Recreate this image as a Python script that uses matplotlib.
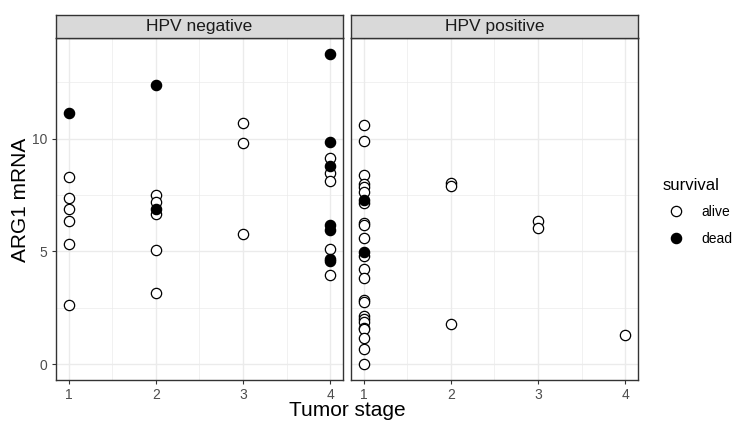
import matplotlib
matplotlib.use("Agg")
import matplotlib.pyplot as plt
from matplotlib.lines import Line2D

plt.rcParams['font.family'] = ['Liberation Sans', 'DejaVu Sans']

# ---- data ----
panels = ["HPV negative", "HPV positive"]

neg_stage = [1, 1, 1, 1, 1, 1, 1,
             2, 2, 2, 2, 2, 2, 2,
             3, 3, 3,
             4, 4, 4, 4, 4, 4, 4, 4, 4, 4, 4, 4]
neg_arg1 = [11.14, 8.30, 7.38, 6.86, 6.33, 5.33, 2.61,
            12.38, 7.50, 7.19, 6.90, 6.67, 5.05, 3.15,
            10.70, 9.80, 5.76,
            13.76, 9.83, 9.12, 8.79, 8.47, 8.10, 6.19, 5.97, 5.12, 4.65, 4.57, 3.96]
neg_surv = ["dead", "alive", "alive", "alive", "alive", "alive", "alive",
            "dead", "alive", "alive", "dead", "alive", "alive", "alive",
            "alive", "alive", "alive",
            "dead", "dead", "alive", "dead", "alive", "alive", "dead", "dead", "alive", "dead", "dead", "alive"]

pos_stage = [1] * 25 + [2, 2, 2, 3, 3, 4]
pos_arg1 = [10.60, 9.90, 8.40, 7.97, 7.87, 7.62, 7.28, 7.15, 6.24, 6.15, 5.60,
            4.96, 4.78, 4.23, 3.82, 2.84, 2.76, 2.14, 2.02, 1.88, 1.63, 1.55, 1.19, 0.68, 0.0,
            8.05, 7.90, 1.81, 6.35, 6.02, 1.29]
pos_surv = ["alive", "alive", "alive", "alive", "alive", "alive", "dead", "alive", "alive", "alive", "alive",
            "dead", "alive", "alive", "alive", "alive", "alive", "alive", "alive", "alive", "alive", "alive", "alive", "alive", "alive",
            "alive", "alive", "alive", "alive", "alive", "alive"]

x_ticks = [1, 2, 3, 4]
y_ticks = [0, 5, 10]
fill_colors = {"alive": "white", "dead": "black"}

# ---- figure ----
W, H = 745, 428
fig = plt.figure(figsize=(W / 100, H / 100), dpi=100)

def fx(px):
    return px / W

def fy(py):
    return 1 - py / H

panel_top, panel_bot, strip_top = 38, 380, 15
lefts = [55.7, 350.7]
width_px = 287.5

grid_col = "#EBEBEB"
border_col = "#333333"
tick_col = "#4D4D4D"

data = [(neg_stage, neg_arg1, neg_surv), (pos_stage, pos_arg1, pos_surv)]

for i, (name, (st, val, sv)) in enumerate(zip(panels, data)):
    ax = fig.add_axes([fx(lefts[i]), fy(panel_bot), fx(width_px), (panel_bot - panel_top) / H])
    ax.set_xlim(0.85, 4.15)
    ax.set_ylim(-0.69, 14.45)
    ax.set_xticks(x_ticks)
    ax.set_xticks([1.5, 2.5, 3.5], minor=True)
    ax.set_yticks(y_ticks)
    ax.set_yticks([2.5, 7.5, 12.5], minor=True)
    ax.grid(True, which="major", color=grid_col, linewidth=1.0)
    ax.grid(True, which="minor", color=grid_col, linewidth=0.5)
    ax.set_axisbelow(True)
    for s in ax.spines.values():
        s.set_color(border_col)
        s.set_linewidth(1.0)
    ax.tick_params(which="minor", length=0)
    ax.tick_params(which="major", length=3, color=border_col, width=0.8,
                   labelsize=10, labelcolor=tick_col, pad=3)
    if i == 1:
        ax.tick_params(axis="y", which="major", length=0, labelleft=False)
    for sname in ["alive", "dead"]:
        xs = [x for x, s in zip(st, sv) if s == sname]
        ys = [y for y, s in zip(val, sv) if s == sname]
        ax.scatter(xs, ys, s=55, facecolor=fill_colors[sname], edgecolor="black",
                   linewidth=0.9, zorder=3)
    # strip
    sax = fig.add_axes([fx(lefts[i]), fy(panel_top), fx(width_px), (panel_top - strip_top) / H])
    sax.set_facecolor("#D9D9D9")
    sax.set_xticks([])
    sax.set_yticks([])
    for s in sax.spines.values():
        s.set_color(border_col)
        s.set_linewidth(1.0)
    sax.text(0.5, 0.5, name, ha="center", va="center", fontsize=12.5,
             color="#1A1A1A", transform=sax.transAxes)

fig.text(fx(21), fy(200), "ARG1 mRNA", rotation=90, ha="center", va="center", fontsize=15)
fig.text(fx(347), fy(411), "Tumor stage", ha="center", va="center", fontsize=15)

handles = [Line2D([], [], marker="o", linestyle="none", markersize=7.4,
                  markerfacecolor=fill_colors[k], markeredgecolor="black",
                  markeredgewidth=0.9, label=k) for k in ["alive", "dead"]]
leg = fig.legend(handles=handles, title="survival", loc="upper left",
                 bbox_to_anchor=(fx(657), fy(172)), frameon=False,
                 fontsize=10, title_fontsize=12, handletextpad=0.8,
                 labelspacing=0.9, borderaxespad=0)
leg._legend_box.align = "left"

fig.savefig("out.png", dpi=100)
